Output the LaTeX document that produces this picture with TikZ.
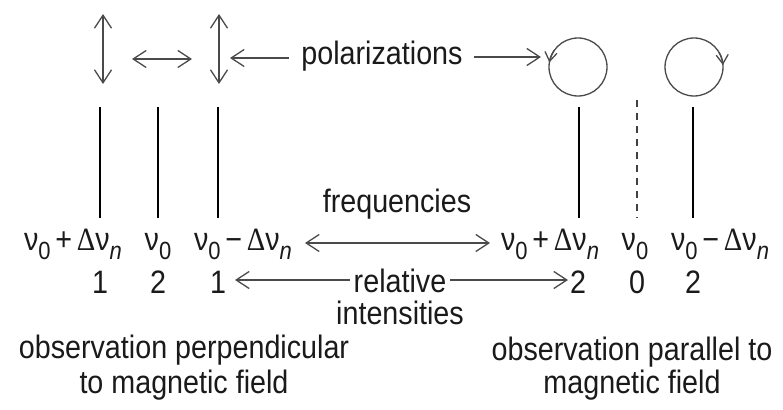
\documentclass[tikz,border=0pt]{standalone}
\usepackage{fontspec}
\usepackage{graphicx}
\setmainfont{Liberation Sans}
\newfontfamily\serifgr{Liberation Serif}
\usetikzlibrary{arrows.meta}
\definecolor{arrgray}{HTML}{4A4A4A}
\definecolor{txtc}{HTML}{1A1A1A}
\newcommand\subsz{\fontsize{22}{22}\selectfont}
\newcommand\nuzero{ν\raisebox{-0.28em}{\subsz 0}}
\newcommand\dnun{{\serifgr Δ}ν\raisebox{-0.28em}{\subsz\itshape n}}
\newcommand\tall[1]{\scalebox{1}[1.13]{#1}}
\begin{document}
\begin{tikzpicture}[x=1pt,y=-1pt,
  txt/.style={font=\fontsize{28.7}{34}\selectfont, text=txtc, inner sep=0pt, anchor=base},
  arr/.style={draw=arrgray, line width=1.3pt, {Straight Barb[length=13pt,width=17pt]}-{Straight Barb[length=13pt,width=17pt]}},
  rarr/.style={draw=arrgray, line width=1.3pt, -{Straight Barb[length=13pt,width=17pt]}},
  carr/.style={draw=arrgray, line width=1.3pt, -{Straight Barb[length=9pt,width=12pt]}},
  circ/.style={draw=arrgray, line width=1.3pt},
  spec/.style={draw=black, line width=2.2pt},
  specd/.style={draw=black!75, line width=1.4pt, dash pattern=on 7pt off 6pt}]
\useasboundingbox (0,0) rectangle (783,409);
\fill[white] (0,0) rectangle (783,409);

% polarization symbols
\coordinate (p1t) at (103,14); \coordinate (p1b) at (103,84);
\coordinate (p2l) at (132,59); \coordinate (p2r) at (192,59);
\coordinate (p3t) at (219,14); \coordinate (p3b) at (219,84);
\draw[arr] (p1t) -- (p1b);
\draw[arr] (p2l) -- (p2r);
\draw[arr] (p3t) -- (p3b);

\node[txt] (pol) at (382,65) {\tall{polarizations}};
\coordinate (pl) at (230,58);
\coordinate (pr) at (541,57);
\draw[rarr] ([xshift=-12pt]pol.west |- pl) -- (pl);
\draw[rarr] ([xshift=11pt]pol.east |- pr) -- (pr);

% circles
\coordinate (c1) at (578,67);
\coordinate (c2) at (694,67);
\draw[circ] (c1) circle[radius=29];
\draw[circ] (c2) circle[radius=29];
\draw[carr] (c1) ++(-145:29) arc[start angle=-145, end angle=-171, radius=29];
\draw[carr] (c2) ++(-30:29) arc[start angle=-30, end angle=-4, radius=29];

% spectral lines
\coordinate (l1t) at (100,107); \coordinate (l1b) at (100,218);
\coordinate (l2t) at (158,107); \coordinate (l2b) at (158,218);
\coordinate (l3t) at (218,107); \coordinate (l3b) at (218,218);
\coordinate (r1t) at (579,107); \coordinate (r1b) at (579,218);
\coordinate (r2t) at (637,100); \coordinate (r2b) at (637,218);
\coordinate (r3t) at (693,107); \coordinate (r3b) at (693,218);
\draw[spec] (l1t) -- (l1b);
\draw[spec] (l2t) -- (l2b);
\draw[spec] (l3t) -- (l3b);
\draw[spec] (r1t) -- (r1b);
\draw[specd] (r2t) -- (r2b);
\draw[spec] (r3t) -- (r3b);

% frequencies
\node[txt] (fl1) at (73,250) {\tall{\nuzero\,+\,\dnun}};
\node[txt] (fl2) at (158,250) {\tall{\nuzero}};
\node[txt] (fl3) at (243,250) {\tall{\nuzero\,−\,\dnun}};
\node[txt] (fr1) at (550,250) {\tall{\nuzero\,+\,\dnun}};
\node[txt] (fr2) at (635,250) {\tall{\nuzero}};
\node[txt] (fr3) at (720,250) {\tall{\nuzero\,−\,\dnun}};
\node[txt] (freq) at (397,212) {\tall{frequencies}};
\coordinate (fa) at (305,243);
\coordinate (fb) at (490,243);
\draw[arr] (fa) -- (fb);

% intensities
\node[txt] (il1) at (100,293) {\tall{1}};
\node[txt] (il2) at (158,293) {\tall{2}};
\node[txt] (il3) at (218,293) {\tall{1}};
\node[txt] (ir1) at (578,293) {\tall{2}};
\node[txt] (ir2) at (637,293) {\tall{0}};
\node[txt] (ir3) at (693,293) {\tall{2}};
\node[txt] (rel) at (400,292) {\tall{relative}};
\node[txt] (int) at (400,324) {\tall{intensities}};
\coordinate (ia) at (235,280);
\coordinate (ib) at (568,280);
\draw[rarr] ([xshift=-4pt]rel.west |- ia) -- (ia);
\draw[rarr] ([xshift=4pt]rel.east |- ib) -- (ib);

% captions
\node[txt] (cl1) at (184,358) {\tall{observation perpendicular}};
\node[txt] (cl2) at (184,393) {\tall{to magnetic field}};
\node[txt] (cr1) at (632,360) {\tall{observation parallel to}};
\node[txt] (cr2) at (632,393) {\tall{magnetic field}};
\end{tikzpicture}
\end{document}
